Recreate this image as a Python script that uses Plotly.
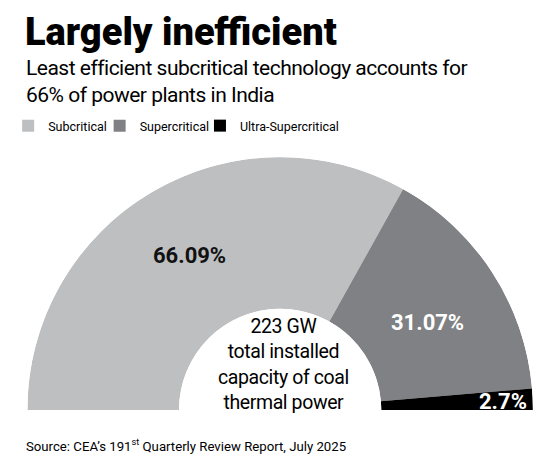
import plotly.graph_objects as go

# Data
categories = ["Subcritical", "Supercritical", "Ultra-Supercritical"]
shares = [66.09, 31.07, 2.7]
colors = ["#bebfc1", "#808184", "#000000"]
label_colors = ["#111111", "#ffffff", "#ffffff"]

W, H = 551, 468
OFF = 8  # page body margin of the html page
FONT = "Roboto, sans-serif"


def px(X):
    return (X - OFF) / W


def py(Y):
    return 1 - (Y - OFF) / H


def squeeze(t, ls):
    return f"<span style='letter-spacing:{ls}px'>{t}</span>"


total = sum(shares)
spans = [v / total * 180 for v in shares]
starts = [sum(spans[:i]) for i in range(len(spans))]

legend_names = ["legend", "legend2", "legend3"]
fig = go.Figure()
for cat, sp, st, col, lg in zip(categories, spans, starts, colors, legend_names):
    fig.add_trace(go.Barpolar(
        r=[1], theta=[st + sp / 2], width=[sp], base=0,
        name=cat, marker=dict(color=col, line=dict(width=0)),
        hoverinfo="name", legend=lg,
    ))

# label positions (page px)
label_pos = [(183.5, 255), (425.5, 322), (502.5, 401)]
annotations = []
for v, (X, Y), lc in zip(shares, label_pos, label_colors):
    annotations.append(dict(
        x=px(X), y=py(Y), xref="paper", yref="paper",
        text=f"<b>{v:g}%</b>", showarrow=False,
        font=dict(family=FONT, size=22, color=lc),
        xanchor="center", yanchor="middle",
    ))

annotations += [
    dict(x=px(14), y=1, xref="paper", yref="paper", xanchor="left", yanchor="top",
         text="Largely inefficient", showarrow=False,
         font=dict(family=FONT, size=38, color="#000", weight=900)),
    dict(x=px(15), y=py(54), xref="paper", yref="paper", xanchor="left", yanchor="top",
         text=squeeze("Least efficient subcritical technology accounts for", -0.5) + "<br>"
              + squeeze("66% of power plants in India", -0.5),
         showarrow=False, align="left",
         font=dict(family=FONT, size=21, color="#000")),
    dict(x=px(279), y=py(364.5), xref="paper", yref="paper", xanchor="center", yanchor="middle",
         text="<br>".join(squeeze(t, -0.4) for t in
                          ["223 GW", "total installed", "capacity of coal", "thermal power"]),
         showarrow=False, align="center",
         font=dict(family=FONT, size=19.5, color="#000")),
    dict(x=px(15), y=py(445), xref="paper", yref="paper", xanchor="left", yanchor="middle",
         text="Source: CEA’s 191<sup>st</sup> Quarterly Review Report, July 2025",
         showarrow=False, align="left",
         font=dict(family=FONT, size=13.2, color="#000")),
]

legend_style = dict(orientation="h", xanchor="left", yanchor="top",
                    font=dict(family=FONT, size=12.5, color="#000"),
                    itemwidth=30, bgcolor="rgba(0,0,0,0)", borderwidth=0)
legend_box_x = [-1, 92, 194]  # page x of each legend box

cx, bottom, R = 275.5, 412, 257
fig.update_layout(
    width=W, height=H,
    margin=dict(l=0, r=0, t=0, b=0),
    paper_bgcolor="white",
    plot_bgcolor="white",
    polar=dict(
        domain=dict(x=[px(cx - R), px(cx + R)], y=[py(bottom), py(bottom - R)]),
        sector=[0, 180],
        hole=0.40,
        bgcolor="white",
        angularaxis=dict(visible=False, rotation=180, direction="clockwise"),
        radialaxis=dict(visible=False, range=[0, 1]),
    ),
    showlegend=True,
    annotations=annotations,
)
for lg, bx in zip(legend_names, legend_box_x):
    fig.update_layout({lg: dict(legend_style, x=px(bx), y=py(111))})

fig.write_html("out.html")
